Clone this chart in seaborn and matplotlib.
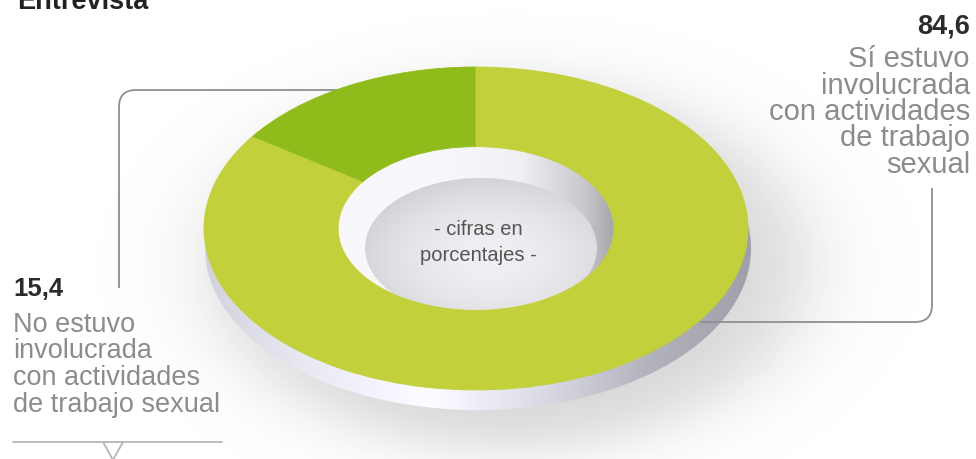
import numpy as np
import matplotlib
matplotlib.use("Agg")
import matplotlib.pyplot as plt
import seaborn as sns
from matplotlib.patches import Ellipse, PathPatch
from matplotlib.path import Path

sns.set_theme(style="white")
plt.rcParams["font.family"] = ["Liberation Sans", "DejaVu Sans"]

# ---- data -------------------------------------------------------------
title = "Entrevista"
values = [15.4, 84.6]
value_labels = ["15,4", "84,6"]
left_desc = ["No estuvo", "involucrada", "con actividades", "de trabajo sexual"]
right_desc = ["Sí estuvo", "involucrada", "con actividades", "de trabajo", "sexual"]
center_note = ["- cifras en", "porcentajes -"]
slice_colors = sns.color_palette(["#8fbc1a", "#c2d03b"])

# ---- geometry (pixels) ------------------------------------------------
W, H = 976, 459
cx, cy, rx, ry = 476, 228.5, 272, 161.5
hole = 0.507
depth = 20

fig = plt.figure(figsize=(W / 100, H / 100), dpi=100)
fig.patch.set_facecolor("white")
bg = fig.add_axes([0, 0, 1, 1])
bg.set_xlim(0, W)
bg.set_ylim(H, 0)
bg.axis("off")

yy, xx = np.mgrid[0:H, 0:W] + 0.5

# soft drop shadow under the disc
r = np.sqrt(((xx - 510) / 295) ** 2 + ((yy - 266) / 182) ** 2)
sh = np.zeros((H, W, 4))
sh[..., :3] = 0.55
sh[..., 3] = 0.34 / (1 + np.exp((r - 1) / 0.09))
bg.imshow(sh, extent=(0, W, H, 0), aspect="auto", zorder=0, interpolation="bilinear")

# side wall of the disc
g = np.interp(xx[0], [200, 300, 430, 540, 650, 760], [0.82, 0.91, 0.99, 0.86, 0.70, 0.62])
rim = np.ones((H, W, 4))
rim[..., 0] = g[None, :]
rim[..., 1] = g[None, :]
rim[..., 2] = np.clip(g[None, :] + 0.04, 0, 1)
rim_patch = Ellipse((cx + 2, cy + depth), 2 * rx + 2, 2 * ry, transform=bg.transData,
                    facecolor="none", edgecolor="none")
bg.add_patch(rim_patch)
im = bg.imshow(rim, extent=(0, W, H, 0), aspect="auto", zorder=1, interpolation="bilinear")
im.set_clip_path(rim_patch)

# inner wall of the hole
hx, hy, hrx, hry = cx + 1, cy + 2, rx * hole * 1.02, ry * hole * 1.02
gw = np.interp(xx[0], [335, 430, 520, 585, 620], [0.97, 0.97, 0.94, 0.78, 0.62])
wall = np.ones((H, W, 4))
wall[..., 0] = gw[None, :]
wall[..., 1] = gw[None, :]
wall[..., 2] = np.clip(gw[None, :] + 0.02, 0, 1)
wall_patch = Ellipse((hx, hy), 2 * hrx, 2 * hry, transform=bg.transData,
                     facecolor="none", edgecolor="none")
bg.add_patch(wall_patch)
im2 = bg.imshow(wall, extent=(0, W, H, 0), aspect="auto", zorder=2, interpolation="bilinear")
im2.set_clip_path(wall_patch)

# floor of the hole
fx, fy, frx, fry = 481, 248, 116, 70
rf = np.clip(np.sqrt(((xx - fx - 10) / frx) ** 2 + ((yy - fy - 10) / fry) ** 2), 0, 1.2)
fv = 0.94 - 0.085 * rf ** 2
floor = np.ones((H, W, 4))
floor[..., 0] = fv
floor[..., 1] = fv
floor[..., 2] = np.clip(fv + 0.015, 0, 1)
floor_patch = Ellipse((fx, fy), 2 * frx, 2 * fry, transform=bg.transData,
                      facecolor="none", edgecolor="none")
bg.add_patch(floor_patch)
im3 = bg.imshow(floor, extent=(0, W, H, 0), aspect="auto", zorder=3, interpolation="bilinear")
im3.set_clip_path(floor_patch)

bg.set_xlim(0, W)
bg.set_ylim(H, 0)

# center note
for txt, yb in zip(center_note, [235, 261]):
    bg.text(hx + 1, yb, txt, ha="center", va="baseline", fontsize=14.5, color="#555555", zorder=5)

# connector lines
codes = [Path.MOVETO, Path.LINETO, Path.CURVE3, Path.CURVE3, Path.LINETO]
verts = [(338, 90), (136, 90), (119, 90), (119, 107), (119, 288)]
bg.add_patch(PathPatch(Path(verts, codes), facecolor="none", edgecolor="#8f8f8f", lw=1.3, zorder=4))
verts = [(700, 322), (915, 322), (932, 322), (932, 305), (932, 188)]
bg.add_patch(PathPatch(Path(verts, codes), facecolor="none", edgecolor="#8f8f8f", lw=1.3, zorder=4))
bg.plot([13, 222], [442, 442], color="#b5b5b5", lw=1.3, zorder=4)
bg.plot([103, 113, 123], [442, 460, 442], color="#b5b5b5", lw=1.3, zorder=4)

# donut ring
pax = fig.add_axes([(cx - rx) / W, 1 - (cy + ry) / H, 2 * rx / W, 2 * ry / H])
wedges, _ = pax.pie(values, colors=slice_colors, startangle=90, counterclock=True, radius=1,
                    wedgeprops=dict(width=1 - hole, linewidth=0.6))
for w in wedges:
    w.set_edgecolor(w.get_facecolor())
pax.set_aspect("auto")
pax.set_xlim(-1, 1)
pax.set_ylim(-1, 1)
pax.axis("off")
pax.patch.set_visible(False)

# title
bg.text(17, 9, title, ha="left", va="baseline", fontsize=19.5, fontweight="bold", color="#222222")

# labels
desc_color = "#8c8c8c"
bg.text(970, 34, value_labels[1], ha="right", va="baseline", fontsize=19.5,
        fontweight="bold", color="#2b2b2b")
for txt, yb in zip(right_desc, [67, 93.5, 120, 146.5, 173]):
    bg.text(970, yb, txt, ha="right", va="baseline", fontsize=21, color=desc_color)
bg.text(13, 296, value_labels[0], ha="left", va="baseline", fontsize=18.5,
        fontweight="bold", color="#2b2b2b")
for txt, yb in zip(left_desc, [332, 358.5, 385, 411.5]):
    bg.text(13, yb, txt, ha="left", va="baseline", fontsize=19.5, color=desc_color)

fig.savefig("out.png", dpi=100, facecolor="white")
